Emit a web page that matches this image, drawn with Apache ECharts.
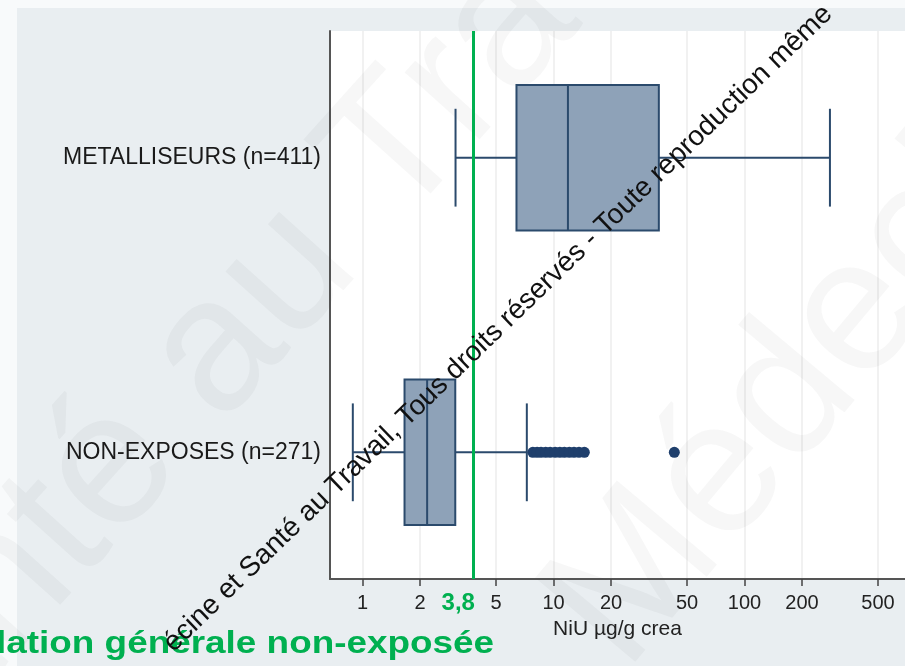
<!DOCTYPE html>
<html>
<head>
<meta charset="utf-8">
<title>NiU µg/g crea</title>
<script src="https://cdn.jsdelivr.net/npm/echarts@6/dist/echarts.min.js"></script>
<style>
html, body { margin: 0; padding: 0; background: #fff; }
#chart { width: 905px; height: 666px; }
</style>
</head>
<body>
<div id="chart"></div>
<script>
// groupes, de haut en bas
var groupNames = ['METALLISEURS (n=411)', 'NON-EXPOSES (n=271)'];
var whiskerLow = [3.07, 0.89];
var quart1 = [6.4, 1.66];
var medianes = [11.9, 2.18];
var quart3 = [35.6, 3.06];
var whiskerHigh = [280, 7.25];
// valeurs extremes (NON-EXPOSES)
var outliersNonExp = [7.8, 8.2, 8.6, 9.1, 9.6, 10.2, 10.8, 11.4, 12.1, 12.8, 13.6, 14.5, 42.9];
var xTicks = [1, 2, 5, 10, 20, 50, 100, 200, 500];
var seuil = 3.8;

var green = '#00b050';
var boxFill = '#8ea2b8';
var boxLine = '#2b4a6c';
var wmColor = 'rgba(60, 70, 80, 0.045)';
var font = '"Liberation Sans", Arial, sans-serif';

var boxData = groupNames.map(function (n, i) {
    return [i, whiskerLow[i], quart1[i], medianes[i], quart3[i], whiskerHigh[i]];
});
var outlierData = outliersNonExp.map(function (v) { return [v, 1]; });

function renderBox(params, api) {
    var c = api.value(0);
    var pLo = api.coord([api.value(1), c]);
    var pQ1 = api.coord([api.value(2), c]);
    var pMed = api.coord([api.value(3), c]);
    var pQ3 = api.coord([api.value(4), c]);
    var pHi = api.coord([api.value(5), c]);
    var band = api.size([0, 1], [1, c])[1];
    var boxH = band * 0.494;
    var capH = band * 0.332;
    var y = pMed[1];
    var st = { stroke: boxLine, lineWidth: 2, fill: null };
    return {
        type: 'group',
        children: [
            { type: 'line', shape: { x1: pLo[0], y1: y, x2: pQ1[0], y2: y }, style: st },
            { type: 'line', shape: { x1: pQ3[0], y1: y, x2: pHi[0], y2: y }, style: st },
            { type: 'line', shape: { x1: pLo[0], y1: y - capH / 2, x2: pLo[0], y2: y + capH / 2 }, style: st },
            { type: 'line', shape: { x1: pHi[0], y1: y - capH / 2, x2: pHi[0], y2: y + capH / 2 }, style: st },
            { type: 'rect', shape: { x: pQ1[0], y: y - boxH / 2, width: pQ3[0] - pQ1[0], height: boxH },
              style: { fill: boxFill, stroke: boxLine, lineWidth: 2 } },
            { type: 'line', shape: { x1: pMed[0], y1: y - boxH / 2, x2: pMed[0], y2: y + boxH / 2 }, style: st }
        ]
    };
}

var chart = echarts.init(document.getElementById('chart'), null, { renderer: 'canvas' });
chart.setOption({
    backgroundColor: '#e9eef1',
    animation: false,
    textStyle: { fontFamily: font },
    grid: {
        left: 330, right: 0, top: 31, bottom: 87,
        show: true, backgroundColor: '#ffffff', borderWidth: 0,
        containLabel: false, outerBoundsMode: 'none'
    },
    xAxis: {
        type: 'log', logBase: 10, min: 0.676, max: 692,
        axisLine: { show: true, onZero: false, lineStyle: { color: '#555', width: 2 } },
        axisTick: { show: true, customValues: xTicks, length: 7, lineStyle: { color: '#444', width: 1.5 } },
        axisLabel: { customValues: xTicks, color: '#222', fontSize: 20, fontFamily: font, margin: 14 },
        splitLine: { show: true, lineStyle: { color: '#ececec', width: 1.5 } },
        minorTick: { show: false },
        minorSplitLine: { show: false },
        name: 'NiU µg/g crea',
        nameLocation: 'middle',
        nameGap: 40,
        nameTextStyle: { color: '#222', fontSize: 21, fontFamily: font }
    },
    yAxis: {
        type: 'value', inverse: true, min: -0.43, max: 1.43,
        axisLine: { show: true, onZero: false, lineStyle: { color: '#555', width: 2 } },
        axisTick: { show: false },
        splitLine: { show: false },
        axisLabel: {
            customValues: groupNames.map(function (n, i) { return i; }),
            formatter: function (v) { return groupNames[Math.round(v)]; },
            color: '#1a1a1a', fontSize: 23, fontFamily: font, margin: 9
        }
    },
    graphic: [
        { type: 'rect', z: -1, shape: { x: 0, y: 0, width: 905, height: 8 }, style: { fill: '#f8fafb' } },
        { type: 'rect', z: -1, shape: { x: 0, y: 0, width: 17, height: 666 }, style: { fill: '#f8fafb' } },
        // filigrane clair
        {
            type: 'text', z: 1, x: 275, y: 288, rotation: 48 * Math.PI / 180, silent: true,
            style: { text: 'Santé au Travail', font: '190px ' + font, fill: wmColor,
                     textAlign: 'center', textVerticalAlign: 'middle' }
        },
        {
            type: 'text', z: 1, x: 585, y: 640, rotation: 50 * Math.PI / 180, silent: true,
            style: { text: 'Médecine', font: '190px ' + font, fill: wmColor,
                     textAlign: 'left', textVerticalAlign: 'middle' }
        },
        {
            type: 'text', z: 50, x: -4, y: 644, scaleX: 1.19,
            style: { text: 'lation générale non-exposée', font: 'bold 31px ' + font, fill: green,
                     textAlign: 'left', textVerticalAlign: 'middle' }
        },
        {
            type: 'text', z: 60, x: 828, y: 10, rotation: 44 * Math.PI / 180,
            style: { text: 'écine et Santé au Travail, Tous droits réservés - Toute reproduction même',
                     font: '28px ' + font, fill: '#111',
                     textAlign: 'right', textVerticalAlign: 'middle' }
        }
    ],
    series: [
        {
            type: 'custom',
            renderItem: renderBox,
            encode: { x: [1, 2, 3, 4, 5], y: 0 },
            data: boxData,
            z: 3,
            markLine: {
                silent: true,
                symbol: 'none',
                lineStyle: { color: green, width: 3, type: 'solid' },
                label: {
                    show: true, position: 'end', formatter: '3,8', distance: 12, offset: [-15, 0],
                    color: green, fontSize: 24, fontWeight: 'bold', fontFamily: font
                },
                data: [{ xAxis: seuil }]
            }
        },
        {
            type: 'scatter',
            data: outlierData,
            symbol: 'circle',
            symbolSize: 11,
            itemStyle: { color: '#1f3f6c', opacity: 1 },
            z: 4
        }
    ]
});
</script>
</body>
</html>
